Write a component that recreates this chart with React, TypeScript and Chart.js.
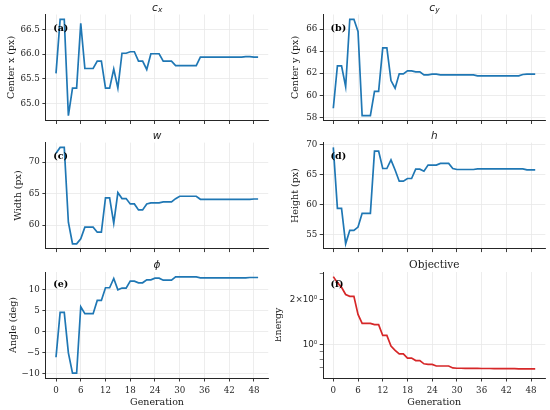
import React, { useEffect, useRef } from "react";
import { Chart, registerables } from "chart.js";

Chart.register(...registerables);
Chart.defaults.font.family = '"DejaVu Serif"';

// ---------------- data ----------------
const generations = [
  0, 1, 2, 3, 4, 5, 6, 7, 8, 9, 10, 11, 12, 13, 14, 15, 16, 17, 18, 19, 20, 21, 22, 23, 24,
  25, 26, 27, 28, 29, 30, 31, 32, 33, 34, 35, 36, 37, 38, 39, 40, 41, 42, 43, 44, 45, 46, 47, 48, 49,
];

const centerX = [
  65.61, 66.71, 66.71, 64.75, 65.31, 65.31, 66.63, 65.71, 65.71, 65.71,
  65.86, 65.86, 65.31, 65.31, 65.7, 65.31, 66.02, 66.02, 66.05, 66.05,
  65.86, 65.86, 65.69, 66.01, 66.01, 66.01, 65.86, 65.86, 65.86, 65.77,
  65.77, 65.77, 65.77, 65.77, 65.77, 65.94, 65.94, 65.94, 65.94, 65.94,
  65.94, 65.94, 65.94, 65.94, 65.94, 65.94, 65.95, 65.95, 65.94, 65.94,
];

const centerY = [
  58.82, 62.67, 62.67, 60.79, 66.88, 66.88, 65.79, 58.15, 58.15, 58.15,
  60.36, 60.36, 64.3, 64.3, 61.33, 60.64, 61.94, 61.94, 62.21, 62.21,
  62.12, 62.12, 61.85, 61.85, 61.91, 61.91, 61.85, 61.85, 61.85, 61.85,
  61.85, 61.85, 61.85, 61.85, 61.85, 61.76, 61.76, 61.76, 61.76, 61.76,
  61.76, 61.76, 61.76, 61.76, 61.76, 61.76, 61.88, 61.91, 61.91, 61.91,
];

const width = [
  71.4, 72.32, 72.32, 60.47, 57.05, 57.05, 57.84, 59.68, 59.68, 59.68,
  58.89, 58.89, 64.32, 64.32, 60.32, 65.16, 64.21, 64.21, 63.37, 63.37,
  62.42, 62.42, 63.37, 63.53, 63.53, 63.53, 63.68, 63.68, 63.68, 64.2,
  64.58, 64.58, 64.58, 64.58, 64.58, 64.1, 64.1, 64.1, 64.1, 64.1,
  64.1, 64.1, 64.1, 64.1, 64.1, 64.1, 64.1, 64.1, 64.15, 64.15,
];

const height = [
  69.58, 59.41, 59.41, 53.49, 55.73, 55.73, 56.28, 58.58, 58.58, 58.58,
  68.97, 68.97, 66.06, 66.06, 67.51, 65.8, 63.94, 63.94, 64.39, 64.39,
  65.95, 65.95, 65.61, 66.62, 66.62, 66.62, 66.9, 66.9, 66.9, 66.06,
  65.89, 65.89, 65.89, 65.89, 65.89, 66.0, 66.0, 66.0, 66.0, 66.0,
  66.0, 66.0, 66.0, 66.0, 66.0, 66.0, 66.0, 65.84, 65.84, 65.84,
];

const angle = [
  -6.17, 4.5, 4.5, -5.14, -9.96, -9.96, 5.85, 4.19, 4.19, 4.19,
  7.35, 7.35, 10.36, 10.36, 12.57, 9.88, 10.28, 10.28, 11.94, 11.94,
  11.54, 11.54, 12.25, 12.25, 12.65, 12.65, 12.17, 12.17, 12.17, 12.96,
  12.96, 12.96, 12.96, 12.96, 12.96, 12.73, 12.73, 12.73, 12.73, 12.73,
  12.73, 12.73, 12.73, 12.73, 12.73, 12.73, 12.73, 12.8, 12.8, 12.8,
];

const energy = [
  2.84, 2.59, 2.41, 2.16, 2.1, 2.1, 1.59, 1.387, 1.387, 1.387,
  1.36, 1.36, 1.152, 1.152, 0.98, 0.916, 0.868, 0.868, 0.815, 0.815,
  0.784, 0.784, 0.746, 0.739, 0.739, 0.721, 0.721, 0.721, 0.721, 0.7,
  0.697, 0.697, 0.696, 0.696, 0.695, 0.695, 0.694, 0.694, 0.694, 0.693,
  0.693, 0.693, 0.692, 0.692, 0.692, 0.691, 0.691, 0.691, 0.69, 0.69,
];

const xTicks = [0, 6, 12, 18, 24, 30, 36, 42, 48];
const cxTicks = [65.0, 65.5, 66.0, 66.5];
const cyTicks = [58, 60, 62, 64, 66];
const wTicks = [60, 65, 70];
const hTicks = [55, 60, 65, 70];
const phiTicks = [-10, -5, 0, 5, 10];
const energyTicks = [0.7, 0.8, 0.9, 1, 2, 3];
const energyTickLabels: Record<string, string> = { "1": "10\u2070", "2": "2\u00d710\u2070" };

// ---------------- layout ----------------
const CANVAS_X = [0, 275];
const CANVAS_W = 275;
const CANVAS_Y = [0, 128, 256];
const CANVAS_H = [128, 128, 154];
const COL_LEFT = [45.9, 323.2];
const COL_RIGHT = [268.2, 545.3];
const ROW_TOP = [14.5, 142.6, 272];
const ROW_BOTTOM = [120.5, 248.6, 378];
const LABEL_OFFSET = [13.6, 13.6, 12.8];

const TEXT = "#262626";
const GRID = "#e8e8e8";
const BLUE = "#1f77b4";
const RED = "#d62728";

type Title = { base: string; sub?: string; math: boolean };
type Spec = {
  row: number;
  col: number;
  values: number[];
  color: string;
  ticks: number[];
  fmt: (v: number) => string;
  log?: boolean;
  title: Title;
  yLabel: string;
  yLabelX: number;
  panel: string;
  xLabel?: string;
};

const minus = (v: number) => (v < 0 ? "\u2212" + Math.abs(v) : String(v));

const specs: Spec[] = [
  { row: 0, col: 0, values: centerX, color: BLUE, ticks: cxTicks, fmt: (v) => v.toFixed(1),
    title: { base: "c", sub: "x", math: true }, yLabel: "Center x (px)", yLabelX: 11.7, panel: "(a)" },
  { row: 0, col: 1, values: centerY, color: BLUE, ticks: cyTicks, fmt: (v) => String(v),
    title: { base: "c", sub: "y", math: true }, yLabel: "Center y (px)", yLabelX: 295.7, panel: "(b)" },
  { row: 1, col: 0, values: width, color: BLUE, ticks: wTicks, fmt: (v) => String(v),
    title: { base: "w", math: true }, yLabel: "Width (px)", yLabelX: 18.3, panel: "(c)" },
  { row: 1, col: 1, values: height, color: BLUE, ticks: hTicks, fmt: (v) => String(v),
    title: { base: "h", math: true }, yLabel: "Height (px)", yLabelX: 295.7, panel: "(d)" },
  { row: 2, col: 0, values: angle, color: BLUE, ticks: phiTicks, fmt: minus,
    title: { base: "\u03d5", math: true }, yLabel: "Angle (deg)", yLabelX: 13.3, panel: "(e)", xLabel: "Generation" },
  { row: 2, col: 1, values: energy, color: RED, ticks: energyTicks, log: true,
    fmt: (v) => energyTickLabels[String(v)] || "",
    title: { base: "Objective", math: false }, yLabel: "Energy", yLabelX: 278.5, panel: "(f)", xLabel: "Generation" },
];

function drawTexts(chart: any, s: Spec) {
  const ctx: CanvasRenderingContext2D = chart.ctx;
  const a = chart.chartArea;
  const cx = (a.left + a.right) / 2;
  const by = a.top - 4;
  ctx.save();
  ctx.fillStyle = "#1a1a1a";
  // title
  if (s.title.math) {
    ctx.font = 'italic 10.5px "DejaVu Sans"';
    const wb = ctx.measureText(s.title.base).width;
    let ws = 0;
    if (s.title.sub) {
      ctx.font = 'italic 7.4px "DejaVu Sans"';
      ws = ctx.measureText(s.title.sub).width;
    }
    const x0 = cx - (wb + ws) / 2;
    ctx.textAlign = "left";
    ctx.textBaseline = "alphabetic";
    ctx.font = 'italic 10.5px "DejaVu Sans"';
    ctx.fillText(s.title.base, x0, by);
    if (s.title.sub) {
      ctx.font = 'italic 7.4px "DejaVu Sans"';
      ctx.fillText(s.title.sub, x0 + wb + 0.3, by + 1.8);
    }
  } else {
    ctx.font = '10.5px "DejaVu Serif"';
    ctx.textAlign = "center";
    ctx.textBaseline = "alphabetic";
    ctx.fillText(s.title.base, cx, by);
  }
  // x label
  if (s.xLabel) {
    ctx.font = '9.5px "DejaVu Serif"';
    ctx.textAlign = "center";
    ctx.textBaseline = "alphabetic";
    ctx.fillText(s.xLabel, cx, 405 - CANVAS_Y[s.row]);
  }
  // panel label
  ctx.font = 'bold 9.5px "DejaVu Serif"';
  ctx.fillStyle = "#000";
  ctx.textAlign = "left";
  ctx.textBaseline = "middle";
  ctx.fillText(s.panel, a.left + 7.3, a.top + LABEL_OFFSET[s.row]);
  // y label
  ctx.fillStyle = "#1a1a1a";
  ctx.translate(s.yLabelX - CANVAS_X[s.col], (a.top + a.bottom) / 2);
  ctx.rotate(-Math.PI / 2);
  ctx.font = '9.5px "DejaVu Serif"';
  ctx.textAlign = "center";
  ctx.textBaseline = "middle";
  ctx.fillText(s.yLabel, 0, 0);
  ctx.restore();
}

function makeConfig(s: Spec): any {
  const r = s.row;
  const c = s.col;
  const yW = COL_LEFT[c] - CANVAS_X[c];
  const padRight = CANVAS_X[c] + CANVAS_W - COL_RIGHT[c];
  const padTop = ROW_TOP[r] - CANVAS_Y[r];
  const xH = CANVAS_Y[r] + CANVAS_H[r] - ROW_BOTTOM[r];

  const gMin = Math.min(...generations);
  const gMax = Math.max(...generations);
  const gPad = (gMax - gMin) * 0.05;

  let yMin: number;
  let yMax: number;
  const vMin = Math.min(...s.values);
  const vMax = Math.max(...s.values);
  if (s.log) {
    const lo = Math.log10(vMin);
    const hi = Math.log10(vMax);
    const p = (hi - lo) * 0.05;
    yMin = Math.pow(10, lo - p);
    yMax = Math.pow(10, hi + p);
  } else {
    const p = (vMax - vMin) * 0.05;
    yMin = vMin - p;
    yMax = vMax + p;
  }

  const showX = r === 2;

  return {
    type: "line",
    data: {
      datasets: [
        {
          data: generations.map((g, i) => ({ x: g, y: s.values[i] })),
          borderColor: s.color,
          borderWidth: 1.7,
          pointRadius: 0,
          tension: 0,
          fill: false,
        },
      ],
    },
    options: {
      animation: false,
      responsive: false,
      maintainAspectRatio: false,
      events: [],
      layout: { padding: { top: padTop, right: padRight, left: 0, bottom: 0 } },
      plugins: { legend: { display: false }, tooltip: { enabled: false }, title: { display: false } },
      scales: {
        x: {
          type: "linear",
          min: gMin - gPad,
          max: gMax + gPad,
          afterBuildTicks: (scale: any) => {
            scale.ticks = xTicks.map((v) => ({ value: v }));
          },
          afterFit: (scale: any) => {
            scale.height = xH;
            scale.paddingLeft = 0;
            scale.paddingRight = 0;
            scale.paddingTop = 0;
            scale.paddingBottom = 0;
          },
          ticks: {
            display: showX,
            autoSkip: false,
            maxRotation: 0,
            padding: 3.8,
            color: TEXT,
            font: { size: 8.7, family: '"DejaVu Serif"' },
            callback: (v: number) => String(v),
          },
          grid: {
            color: GRID,
            lineWidth: 0.8,
            tickColor: TEXT,
            tickLength: 3.5,
            tickWidth: 0.9,
            drawTicks: true,
          },
          border: { display: true, color: TEXT, width: 1 },
          title: { display: false },
        },
        y: {
          type: s.log ? "logarithmic" : "linear",
          min: yMin,
          max: yMax,
          afterBuildTicks: (scale: any) => {
            scale.ticks = s.ticks.map((v) => ({ value: v }));
          },
          afterFit: (scale: any) => {
            scale.width = yW;
            scale.paddingLeft = 0;
            scale.paddingRight = 0;
            scale.paddingTop = 0;
            scale.paddingBottom = 0;
          },
          ticks: {
            display: true,
            autoSkip: false,
            padding: 2.5,
            color: TEXT,
            font: { size: 8.7, family: s.log ? '"DejaVu Sans"' : '"DejaVu Serif"' },
            callback: (v: number) => s.fmt(Number(v)),
          },
          grid: {
            color: s.log
              ? (ctx: any) => (ctx.tick && ctx.tick.value === 1 ? GRID : "rgba(0,0,0,0)")
              : GRID,
            lineWidth: 0.8,
            tickColor: TEXT,
            tickLength: 3.5,
            tickWidth: s.log
              ? (ctx: any) => (ctx.tick && (ctx.tick.value === 1 || ctx.tick.value === 2) ? 0.9 : 0.6)
              : 0.9,
            drawTicks: true,
          },
          border: { display: true, color: TEXT, width: 1 },
          title: { display: false },
        },
      },
    },
    plugins: [
      {
        id: "panelText",
        afterDraw: (chart: any) => drawTexts(chart, s),
      },
    ],
  };
}

function Panel({ spec }: { spec: Spec }) {
  const ref = useRef<HTMLCanvasElement | null>(null);
  useEffect(() => {
    if (!ref.current) return;
    const chart = new Chart(ref.current, makeConfig(spec));
    return () => chart.destroy();
  }, [spec]);
  const w = CANVAS_W;
  const h = CANVAS_H[spec.row];
  return (
    <canvas
      ref={ref}
      width={w}
      height={h}
      style={{
        position: "absolute",
        left: CANVAS_X[spec.col],
        top: CANVAS_Y[spec.row],
        width: w,
        height: h,
      }}
    />
  );
}

export default function App() {
  return (
    <div
      style={{
        position: "absolute",
        left: 0,
        top: 0,
        width: 550,
        height: 410,
        background: "#fff",
        overflow: "hidden",
      }}
    >
      {specs.map((s) => (
        <Panel key={s.panel} spec={s} />
      ))}
    </div>
  );
}
